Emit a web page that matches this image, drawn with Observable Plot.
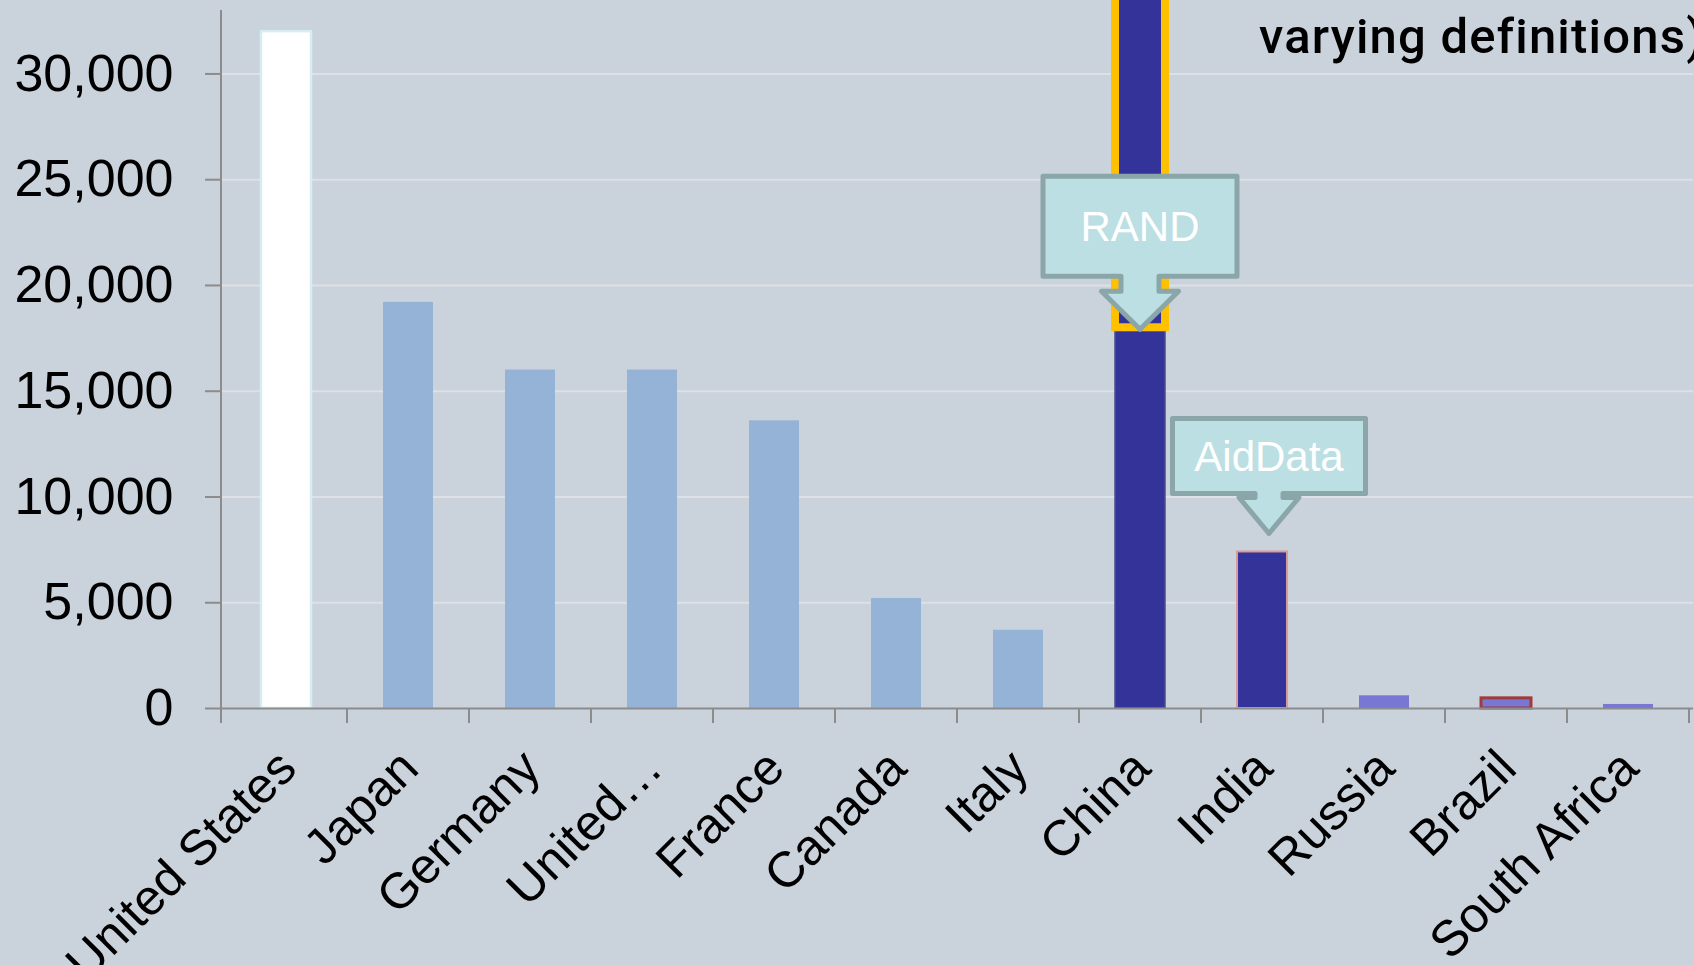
<!DOCTYPE html>
<html><head><meta charset="utf-8">
<script src="https://cdn.jsdelivr.net/npm/d3@7"></script>
<script src="https://cdn.jsdelivr.net/npm/@observablehq/plot@0.6"></script>
<style>
html,body{margin:0;padding:0;background:#cad2dc;overflow:hidden;width:1694px;height:965px;}
#wrap{position:relative;width:1694px;height:965px;overflow:hidden;}
#title{position:absolute;left:1259px;top:12px;font-family:Roboto,"Noto Sans",sans-serif;font-weight:500;font-size:49px;line-height:1;white-space:nowrap;color:#000;letter-spacing:1.2px;}
</style></head><body>
<div id="wrap"><div id="chart"></div><div id="title">varying definitions)</div></div>
<script>
// ---- data ----
const countries = ["United States","Japan","Germany","United Kingdom","France","Canada","Italy","China","India","Russia","Brazil","South Africa"];
const tickLabels = ["United States","Japan","Germany","United\u2026","France","Canada","Italy","China","India","Russia","Brazil","South Africa"];
const values = [32000,19200,16000,16000,13600,5200,3700,18000,7400,600,480,190];
const groups = ["us","g7","g7","g7","g7","g7","g7","major","major","other","other","other"];
const chinaRandRange = [18000, 38000]; // upper end runs off the top of the chart
const yTicks = [0,5000,10000,15000,20000,25000,30000];
const callouts = [
  {country:"China", value:18000, label:"RAND"},
  {country:"India", value:7400, label:"AidData"}
];

// ---- styles ----
const groupFill = {us:"#ffffff", g7:"#95b3d7", major:"#333399", other:"#7878d4"};
const barStroke = {"United States":["#d6edf2",2.5], "China":["#4b4f8e",1.5], "India":["#d99c9c",2], "Brazil":["#a13a3a",3]};
const calloutGeom = {
  RAND:{w:194,h:100,stemW:38,stemH:15,headW:77,headH:38,dx:0,dy:2},
  AidData:{w:193,h:75,stemW:28,stemH:4,headW:60,headH:36,dx:7,dy:-18}
};
const axisGray = "#8c8c8c";

const table = countries.map((c,i)=>({country:c, value:values[i], group:groups[i]}));
const labelOf = d => tickLabels[countries.indexOf(d)];

function bandInfo(x){
  const bw = typeof x.bandwidth === "function" ? x.bandwidth() : x.bandwidth;
  const step = typeof x.step === "function" ? x.step() : x.step;
  return {bw, step};
}

function axisLines(index, scales, values, dim){
  const x = scales.x;
  const {bw, step} = bandInfo(x);
  const y0 = dim.height - dim.marginBottom;
  const g = d3.create("svg:g").attr("stroke", axisGray).attr("stroke-width", 2);
  g.append("line").attr("x1", dim.marginLeft).attr("x2", dim.marginLeft)
    .attr("y1", dim.marginTop).attr("y2", y0 + 15);
  const bounds = countries.slice(1).map(c => x(c) - (step - bw)/2);
  bounds.push(x(countries[countries.length-1]) + bw + (step - bw)/2);
  for (const b of bounds) {
    g.append("line").attr("x1", b).attr("x2", b).attr("y1", y0).attr("y2", y0 + 15);
  }
  return g.node();
}

function calloutMark(index, scales){
  const x = scales.x;
  const {bw} = bandInfo(x);
  const g = d3.create("svg:g");
  for (const c of callouts) {
    const s = calloutGeom[c.label];
    const cx = x(c.country) + bw/2 + s.dx;
    const tipY = scales.y(c.value) + s.dy;
    const bottom = tipY - s.headH - s.stemH, top = bottom - s.h;
    const left = cx - s.w/2, right = cx + s.w/2;
    g.append("path")
      .attr("d", `M${left},${top}H${right}V${bottom}H${cx+s.stemW/2}V${bottom+s.stemH}H${cx+s.headW/2}L${cx},${tipY}L${cx-s.headW/2},${bottom+s.stemH}H${cx-s.stemW/2}V${bottom}H${left}Z`)
      .attr("fill", "#bbdfe3").attr("stroke", "#8ba6a9").attr("stroke-width", 5)
      .attr("stroke-linejoin", "round");
    g.append("text").attr("x", cx).attr("y", (top+bottom)/2 + 15)
      .attr("text-anchor", "middle").attr("fill", "#ffffff")
      .attr("font-size", 42).attr("font-family", "Liberation Sans, Arial, sans-serif")
      .text(c.label);
  }
  return g.node();
}

const chart = Plot.plot({
  width: 1694,
  height: 965,
  marginLeft: 221,
  marginRight: 1,
  marginTop: 10,
  marginBottom: 257,
  style: {background: "#cad2dc", fontFamily: "Liberation Sans, Arial, sans-serif", color: "#000", overflow: "visible"},
  x: {domain: countries, paddingInner: 0.59, paddingOuter: 0.295, axis: null, label: null},
  y: {domain: [0, 33000], axis: null, label: null},
  color: {type: "identity"},
  marks: [
    Plot.gridY(yTicks.filter(t => t > 0), {stroke: "#dde0e4", strokeOpacity: 1, strokeWidth: 2}),
    Plot.barY(table, {
      x: "country", y: "value",
      fill: d => groupFill[d.group],
      stroke: d => barStroke[d.country] ? barStroke[d.country][0] : "none",
      strokeWidth: d => barStroke[d.country] ? barStroke[d.country][1] : 0
    }),
    Plot.barY([{country: "China", y1: chinaRandRange[0], y2: chinaRandRange[1]}], {
      x: "country", y1: "y1", y2: "y2", fill: "#333399", stroke: "#ffc000", strokeWidth: 8
    }),
    Plot.ruleY([0], {stroke: axisGray, strokeWidth: 2}),
    axisLines,
    Plot.axisY({ticks: yTicks, tickFormat: d3.format(","), tickSize: 16, tickPadding: 32,
      fontSize: 52, stroke: axisGray, strokeWidth: 2, fill: "#000", label: null}),
    Plot.axisX({tickSize: 0, tickPadding: 51, dx: 1, tickRotate: -45, fontSize: 50,
      tickFormat: labelOf, fill: "#000", label: null}),
    calloutMark
  ]
});
document.getElementById("chart").appendChild(chart);
</script>
</body></html>
